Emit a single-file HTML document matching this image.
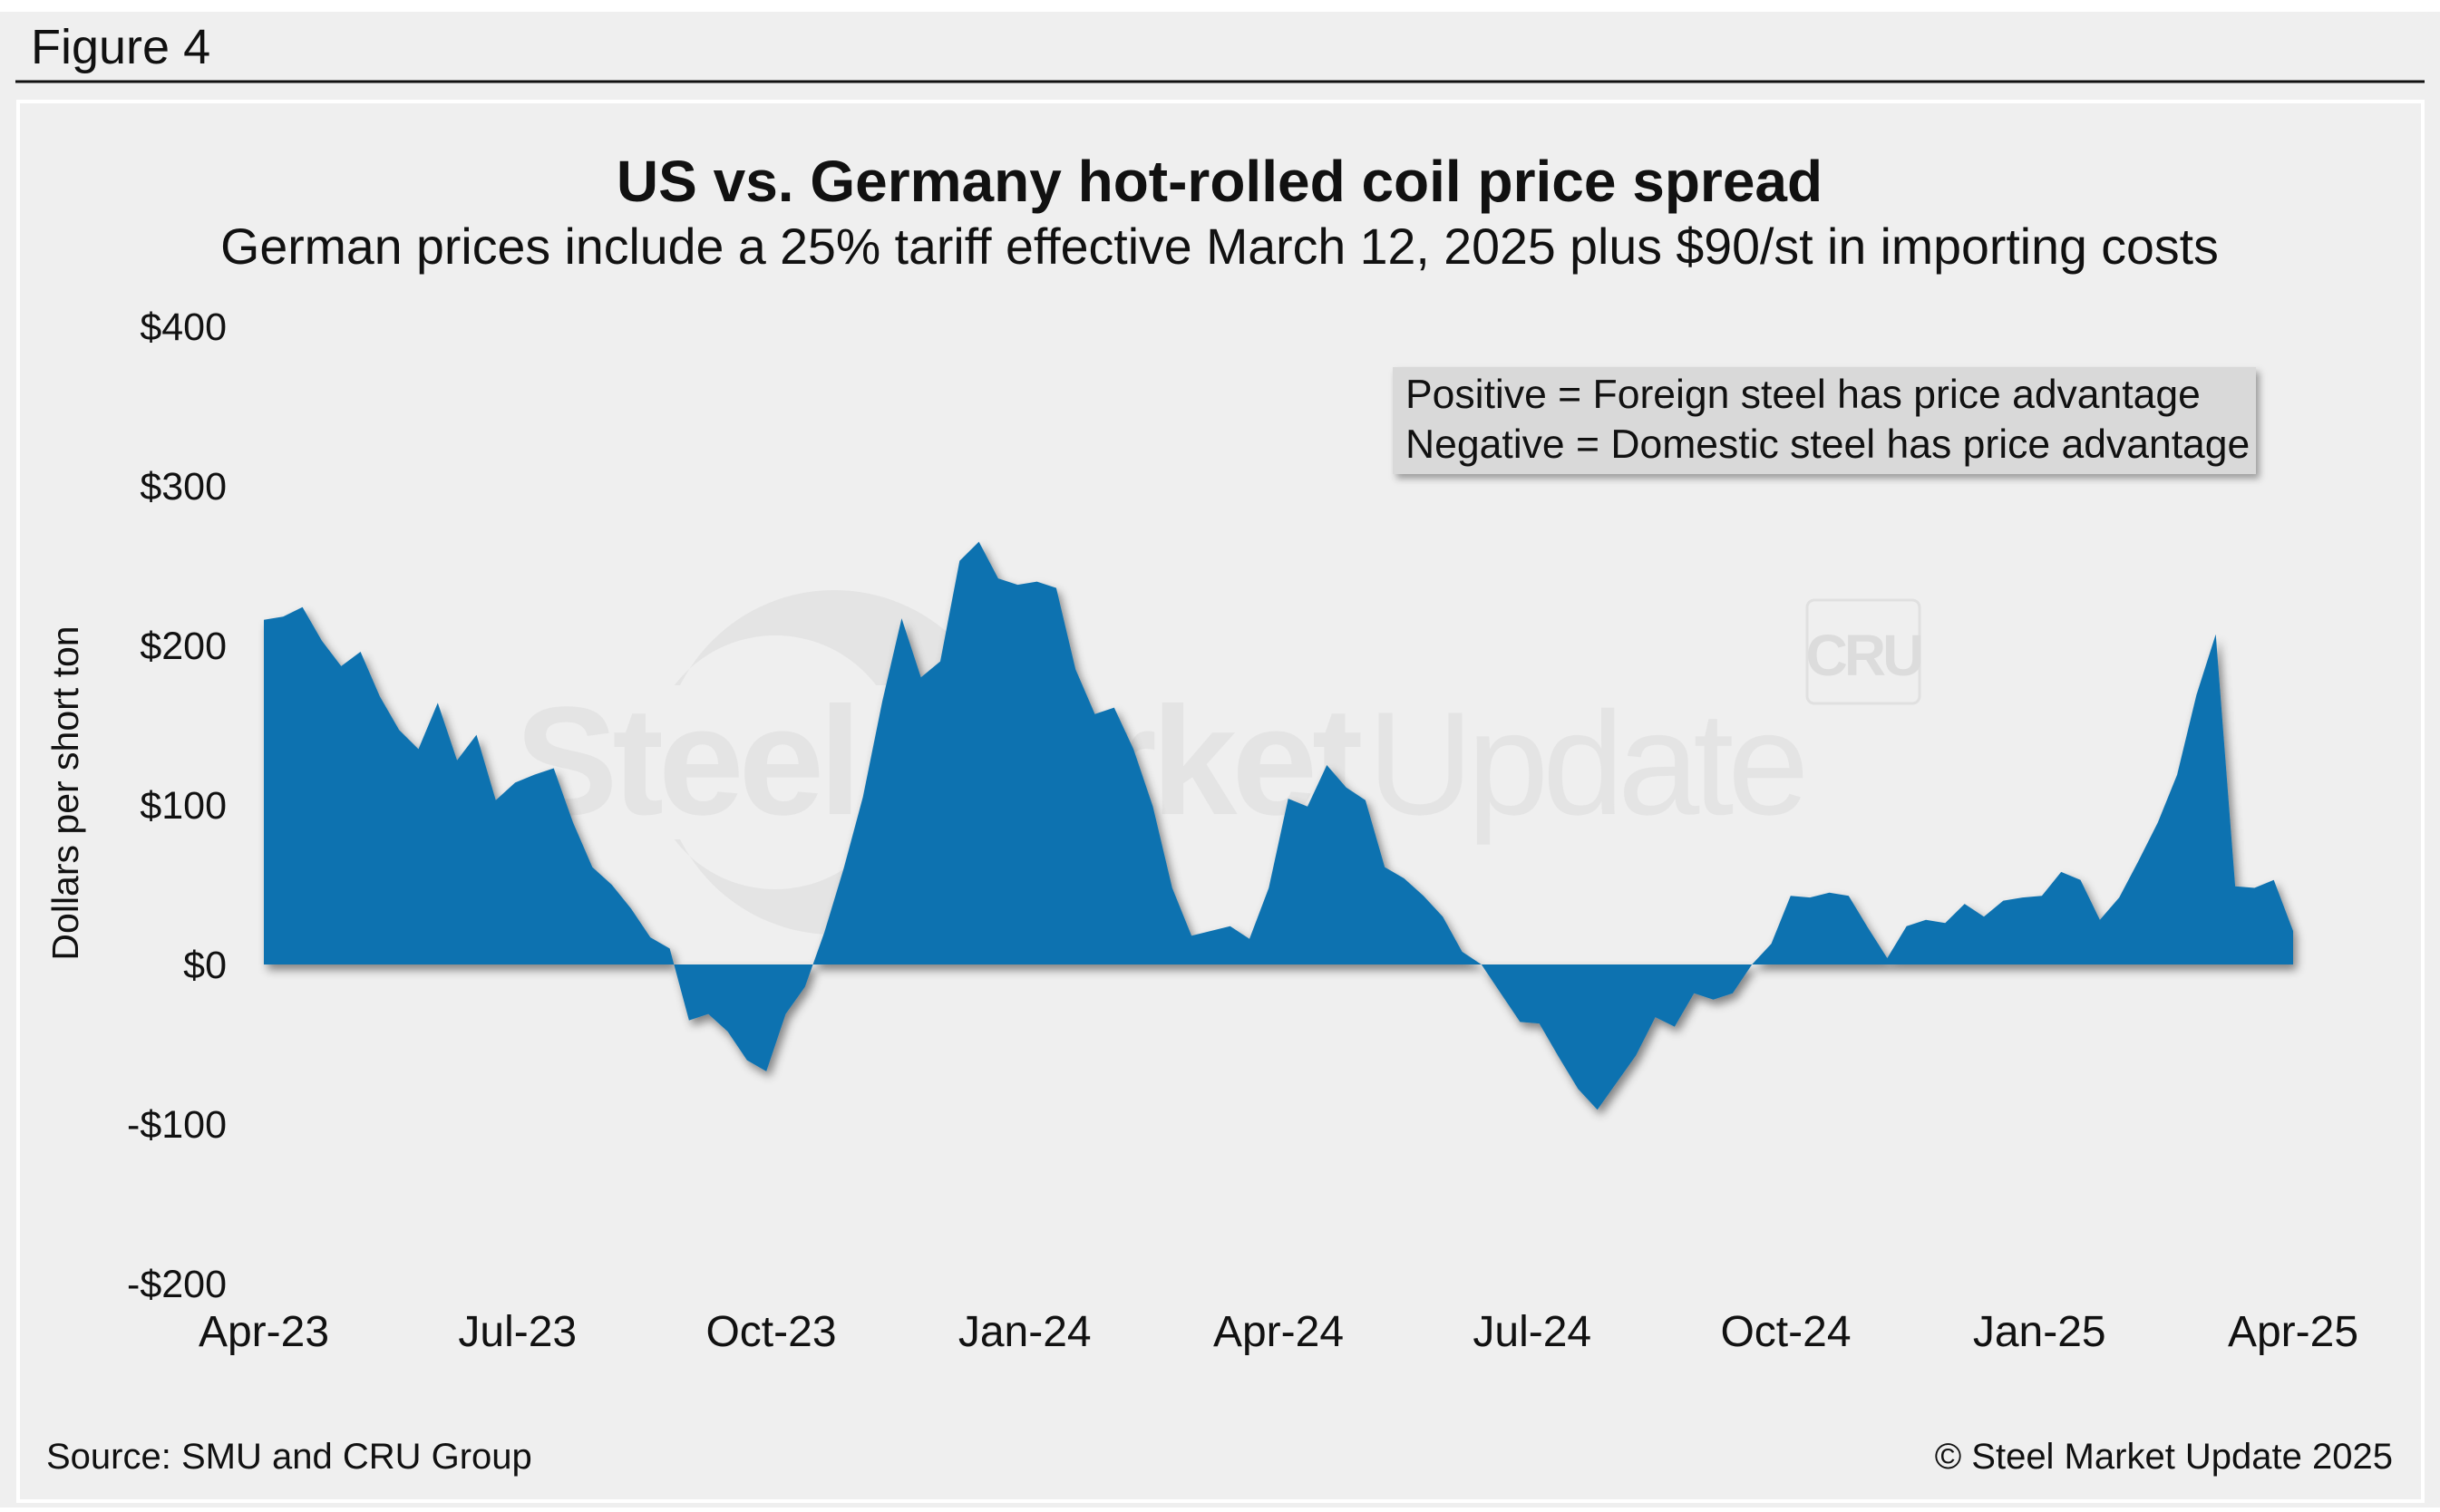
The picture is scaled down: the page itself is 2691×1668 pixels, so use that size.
<!DOCTYPE html>
<html><head><meta charset="utf-8">
<style>
html,body{margin:0;padding:0;background:#fff;}
body{width:2691px;height:1663px;position:relative;overflow:hidden;font-family:"Liberation Sans",Arial,sans-serif;}
</style></head>
<body>
<svg id="chart" width="2691" height="1663" viewBox="0 0 2691 1663" xmlns="http://www.w3.org/2000/svg" font-family="Liberation Sans, Arial, sans-serif">
<defs>
<filter id="sh" x="-5%" y="-5%" width="110%" height="115%">
<feDropShadow dx="4" dy="6" stdDeviation="5" flood-color="#000" flood-opacity="0.45"/>
</filter>
<filter id="lsh" x="-5%" y="-10%" width="115%" height="130%">
<feDropShadow dx="4" dy="5" stdDeviation="4" flood-color="#000" flood-opacity="0.35"/>
</filter>
<clipPath id="band">
<rect x="0" y="0" width="2691" height="756"/>
<rect x="0" y="926" width="2691" height="700"/>
</clipPath>
</defs>
<rect x="0" y="13" width="2691" height="1650" fill="#efefef"/>
<text x="34" y="70" font-size="54" fill="#111">Figure 4</text>
<line x1="17" y1="90" x2="2674" y2="90" stroke="#111" stroke-width="3"/>
<rect x="20" y="112" width="2652" height="1544" fill="#efefef" stroke="#fff" stroke-width="4"/>
<text x="1345" y="222" font-size="64" font-weight="bold" text-anchor="middle" fill="#111">US vs. Germany hot-rolled coil price spread</text>
<text x="1345" y="291" font-size="55.5" text-anchor="middle" fill="#111">German prices include a 25% tariff effective March 12, 2025 plus $90/st in importing costs</text>

<g>
<path clip-path="url(#band)" fill-rule="evenodd" fill="#e4e4e4" d="M 1110 841 A 190 190 0 1 0 730 841 A 190 190 0 1 0 1110 841 Z M 995 841 A 140 140 0 1 0 715 841 A 140 140 0 1 0 995 841 Z"/>
<text x="568" y="898" font-size="170" font-weight="bold" fill="#e0e0e0" fill-opacity="0.75" letter-spacing="-6">Steel Market</text>
<text x="1508" y="898" font-size="162" fill="#e0e0e0" fill-opacity="0.75" letter-spacing="-7">Update</text>
<rect x="1993" y="662" width="124" height="114" rx="8" fill="none" stroke="#e0e0e0" stroke-width="3"/>
<text x="2055" y="745" font-size="64" font-weight="bold" fill="#dcdcdc" text-anchor="middle" letter-spacing="-4">CRU</text>
</g>

<g id="yaxis"></g>
<g id="xaxis"></g>
<g id="series"></g>

<text transform="translate(86,875) rotate(-90)" font-size="41" text-anchor="middle" fill="#111">Dollars per short ton</text>

<g>
<rect x="1536" y="405" width="952" height="118" fill="#d9d9d9" filter="url(#lsh)"/>
<text x="1550" y="450" font-size="44.5" fill="#111">Positive = Foreign steel has price advantage</text>
<text x="1550" y="505" font-size="44.5" fill="#111">Negative = Domestic steel has price advantage</text>
</g>

<text x="51" y="1620" font-size="40" fill="#111">Source: SMU and CRU Group</text>
<text x="2639" y="1620" font-size="40" text-anchor="end" fill="#111">© Steel Market Update 2025</text>
</svg>
<script>
const spreadValues = [216,218,224,203,187,196,168,147,135,164,128,144,103,114,119,123,89,61,50,35,17,10,-35,-31,-42,-60,-67,-31,-14,20,60,105,165,217,180,190,253,265,242,238,240,236,185,157,161,135,99,48,18,21,24,16,48,104,
99,125,111,103,61,54,43,30,8,0,-18,-36,-37,-58,-78,-91,-74,-57,-33,-39,-18,-22,-18,0,13,43,42,45,43,23,4,24,28,26,38,30,40,42,43,58,53,28,42,65,89,119,169,207,49,48,53,21];
const yTicks = [400,300,200,100,0,-100,-200];
const yTickLabels = ["$400","$300","$200","$100","$0","-$100","-$200"];
const xTickLabels = ["Apr-23","Jul-23","Oct-23","Jan-24","Apr-24","Jul-24","Oct-24","Jan-25","Apr-25"];

const NS = "http://www.w3.org/2000/svg";
const X0 = 291, X1 = 2529, Y0 = 1064, PPD = 1.76;
function yScale(v){ return Y0 - v*PPD; }
function xScale(i){ return X0 + i*(X1-X0)/(spreadValues.length-1); }
function xTick(k){ return X0 + k*(X1-X0)/(xTickLabels.length-1); }

const yg = document.getElementById('yaxis');
yTicks.forEach((v,i)=>{
  const t = document.createElementNS(NS,'text');
  t.setAttribute('x', 250);
  t.setAttribute('y', yScale(v)+15);
  t.setAttribute('font-size', 43);
  t.setAttribute('text-anchor','end');
  t.setAttribute('fill','#111');
  t.textContent = yTickLabels[i];
  
  
  yg.appendChild(t);
});
const xg = document.getElementById('xaxis');
xTickLabels.forEach((lab,k)=>{
  const t = document.createElementNS(NS,'text');
  t.setAttribute('x', xTick(k));
  t.setAttribute('y', 1485);
  t.setAttribute('font-size', 48);
  t.setAttribute('text-anchor','middle');
  t.setAttribute('fill','#111');
  t.textContent = lab;
  
  
  xg.appendChild(t);
});
let d = 'M '+xScale(0)+' '+yScale(0);
spreadValues.forEach((v,i)=>{ d += ' L '+xScale(i).toFixed(1)+' '+yScale(v).toFixed(1); });
d += ' L '+xScale(spreadValues.length-1)+' '+yScale(0)+' Z';
const area = document.createElementNS(NS,'path');
area.setAttribute('d', d);
area.setAttribute('fill', '#1072b0');
area.setAttribute('filter', 'url(#sh)');


document.getElementById('series').appendChild(area);
</script>
</body></html>
